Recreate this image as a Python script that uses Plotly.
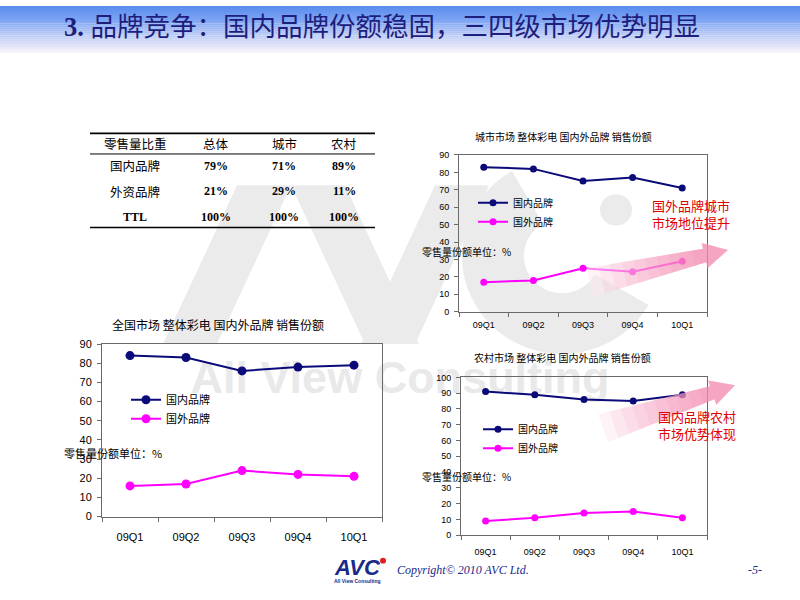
import math
import plotly.graph_objects as go

# ---------------- data ----------------
categories = ["09Q1", "09Q2", "09Q3", "09Q4", "10Q1"]
series_names = ["国内品牌", "国外品牌"]

city_domestic = [83, 82, 75, 77, 71]
city_foreign = [17, 18, 25, 23, 29]
national_domestic = [84, 83, 76, 78, 79]
national_foreign = [16, 17, 24, 22, 21]
rural_domestic = [91, 89, 86, 85, 89]
rural_foreign = [9, 11, 14, 15, 11]

table_header = ["零售量比重", "总体", "城市", "农村"]
table_rows = ["国内品牌", "外资品牌", "TTL"]
share_total = ["79%", "21%", "100%"]
share_city = ["71%", "29%", "100%"]
share_rural = ["89%", "11%", "100%"]

slide_title = "品牌竞争：国内品牌份额稳固，三四级市场优势明显"
title_city = "城市市场 整体彩电 国内外品牌 销售份额"
title_national = "全国市场 整体彩电 国内外品牌 销售份额"
title_rural = "农村市场 整体彩电 国内外品牌 销售份额"
unit_label = "零售量份额单位：%"
note_city = "国外品牌城市<br>市场地位提升"
note_rural = "国内品牌农村<br>市场优势体现"

# ---------------- style ----------------
W, H = 800, 600
CJK = "Noto Sans CJK SC"
NUMF = "Liberation Sans"
SERIF = "Liberation Serif, Noto Sans CJK SC"
NAVY = "#0a0a78"
PINK = "#ff00ff"
AXIS = "#6a6a6a"
TITLE_NAVY = "#1e1e7c"
WM = "#ebebeb"


def PX(x):
    return x / W


def PY(y):
    return 1 - y / H


fig = go.Figure()

charts = [
    dict(xa="x", ya="y", xk="xaxis", yk="yaxis", lg="legend",
         dx=(459, 707), dy=(152, 312), ymax=90,
         dom=city_domestic, fgn=city_foreign, ms=7, fs=9, so=4,
         title=title_city, tpos=(563, 133), tfs=10,
         unit=(420, 250), ufs=10, leg=(473, 186), lfs=10),
    dict(xa="x2", ya="y2", xk="xaxis2", yk="yaxis2", lg="legend2",
         dx=(102, 382), dy=(345, 521), ymax=90,
         dom=national_domestic, fgn=national_foreign, ms=9, fs=11, so=10,
         title=title_national, tpos=(218, 325), tfs=12,
         unit=(62, 456), ufs=11, leg=(126, 387), lfs=11),
    dict(xa="x3", ya="y3", xk="xaxis3", yk="yaxis3", lg="legend3",
         dx=(461, 707), dy=(379, 540), ymax=100,
         dom=rural_domestic, fgn=rural_foreign, ms=7, fs=9, so=8,
         title=title_rural, tpos=(562, 359), tfs=10,
         unit=(420, 480), ufs=10, leg=(478, 417), lfs=10),
]

annotations = []
layout_extra = {}

for c in charts:
    for name, vals, col in ((series_names[0], c["dom"], NAVY), (series_names[1], c["fgn"], PINK)):
        fig.add_trace(go.Scatter(
            x=categories, y=vals, name=name, mode="lines+markers",
            line=dict(color=col, width=2), marker=dict(color=col, size=c["ms"]),
            xaxis=c["xa"], yaxis=c["ya"], legend=c["lg"], showlegend=True,
            hoverinfo="skip"))
    layout_extra[c["xk"]] = dict(
        domain=[PX(c["dx"][0]), PX(c["dx"][1])], anchor=c["ya"],
        type="category", range=[-0.5, 4.5], showline=True, mirror=True,
        linecolor=AXIS, linewidth=1, ticks="outside", tickson="boundaries",
        ticklen=4, tickcolor=AXIS, showgrid=False, zeroline=False,
        tickfont=dict(family=NUMF, size=c["fs"], color="black"),
        ticklabelstandoff=c["so"])
    layout_extra[c["yk"]] = dict(
        domain=[PY(c["dy"][1]), PY(c["dy"][0])], anchor=c["xa"],
        range=[0, c["ymax"]], dtick=10, tick0=0, showline=True, mirror=True,
        linecolor=AXIS, linewidth=1, ticks="outside", ticklen=4,
        tickcolor=AXIS, showgrid=False, zeroline=False,
        tickfont=dict(family=NUMF, size=c["fs"], color="black"),
        ticklabelstandoff=3)
    layout_extra[c["lg"]] = dict(
        x=PX(c["leg"][0]), y=PY(c["leg"][1]), xanchor="left", yanchor="top",
        bgcolor="rgba(0,0,0,0)", borderwidth=0, itemwidth=30,
        font=dict(family=CJK, size=c["lfs"], color="black"),
        tracegroupgap=0, itemclick=False, itemdoubleclick=False)
    annotations.append(dict(
        x=PX(c["tpos"][0]), y=PY(c["tpos"][1]), xref="paper", yref="paper",
        text=c["title"], showarrow=False, xanchor="center", yanchor="middle",
        font=dict(family=CJK, size=c["tfs"], color="black")))
    annotations.append(dict(
        x=PX(c["unit"][0]), y=PY(c["unit"][1]), xref="paper", yref="paper",
        text=unit_label, showarrow=False, xanchor="left", yanchor="middle",
        font=dict(family=CJK, size=c["ufs"], color="black")))

# ---------------- table (text laid out from the arrays) ----------------
col_x = [135, 216, 284, 344]
row_y = [163, 189, 215]
for j, h in enumerate(table_header):
    annotations.append(dict(x=PX(col_x[j]), y=PY(140), xref="paper", yref="paper",
                            text=h, showarrow=False, xanchor="center", yanchor="middle",
                            font=dict(family=CJK, size=12.5, color="black")))
columns = [table_rows, share_total, share_city, share_rural]
for j, col in enumerate(columns):
    for i, v in enumerate(col):
        is_bold = j > 0 or v.isascii()
        annotations.append(dict(
            x=PX(col_x[j]), y=PY(row_y[i]), xref="paper", yref="paper",
            text=("<b>%s</b>" % v) if is_bold else v, showarrow=False,
            xanchor="center", yanchor="middle",
            font=dict(family=SERIF if is_bold else CJK,
                      size=12 if is_bold else 12.5, color="black")))

# ---------------- shapes ----------------
shapes = []

# header gradient band
stops = [(0, (88, 140, 238)), (15, (128, 166, 244)), (30, (188, 204, 246)),
         (42, (230, 229, 246)), (48, (252, 248, 252))]
for y in range(0, 48, 2):
    for i in range(len(stops) - 1):
        if stops[i][0] <= y < stops[i + 1][0]:
            y0, c0 = stops[i]
            y1, c1 = stops[i + 1]
            t = (y + 1 - y0) / (y1 - y0)
            col = tuple(int(c0[k] + (c1[k] - c0[k]) * t) for k in range(3))
            break
    shapes.append(dict(type="rect", xref="paper", yref="paper", layer="below",
                       x0=0, x1=1, y0=PY(y + 2.2), y1=PY(y), line=dict(width=0),
                       fillcolor="rgb(%d,%d,%d)" % col))


def poly(pts):
    return "M " + " L ".join("%.5f,%.5f" % (PX(x), PY(y)) for x, y in pts) + " Z"


# watermark "AVC"
for pts in ([(237, 183), (291, 183), (217, 345), (163, 345)],
            [(291, 183), (345, 183), (419, 345), (365, 345)],
            [(435, 183), (489, 183), (415, 345), (361, 345)]):
    shapes.append(dict(type="path", xref="paper", yref="paper", layer="below",
                       path=poly(pts), fillcolor=WM, line=dict(width=0)))
cx, cy, R, r = 562, 255, 100, 38
a0, a1 = 120, 330
outer = [(cx + R * math.cos(math.radians(a)), cy - R * math.sin(math.radians(a)))
         for a in range(a0, a1 + 1, 5)]
inner = [(cx + r * math.cos(math.radians(a)), cy - r * math.sin(math.radians(a)))
         for a in range(a1, a0 - 1, -5)]
shapes.append(dict(type="path", xref="paper", yref="paper", layer="below",
                   path=poly(outer + inner), fillcolor=WM, line=dict(width=0)))
shapes.append(dict(type="circle", xref="paper", yref="paper", layer="below",
                   x0=PX(600), x1=PX(632), y0=PY(224), y1=PY(192),
                   fillcolor=WM, line=dict(width=0)))
shapes.append(dict(type="rect", xref="paper", yref="paper", layer="below",
                   x0=PX(170), x1=PX(630), y0=PY(398), y1=PY(352),
                   line=dict(width=0), fillcolor="rgba(0,0,0,0)",
                   label=dict(text="<b>All View Consulting</b>",
                              textposition="middle center",
                              font=dict(family=NUMF, size=45, color="#e9e9e9"))))

# table rules
for y, w in ((130, 1.6), (151, 1), (226, 1.6)):
    shapes.append(dict(type="line", xref="paper", yref="paper",
                       x0=PX(90), x1=PX(375), y0=PY(y), y1=PY(y),
                       line=dict(color="black", width=w)))


# gradient arrows
def arrow(tail, tip, bw0, bw1, hw, hl, n):
    dx, dy = tip[0] - tail[0], tip[1] - tail[1]
    L = math.hypot(dx, dy)
    ux, uy = dx / L, dy / L
    nx, ny = -uy, ux
    bx, by = tip[0] - ux * hl, tip[1] - uy * hl
    out = []
    for k in range(n):
        f = k / n
        sx, sy = tail[0] + ux * f * (L - hl), tail[1] + uy * f * (L - hl)
        ws = bw0 + (bw1 - bw0) * f
        pts = [(sx + nx * ws, sy + ny * ws), (bx + nx * bw1, by + ny * bw1),
               (bx + nx * hw, by + ny * hw), tip,
               (bx - nx * hw, by - ny * hw), (bx - nx * bw1, by - ny * bw1),
               (sx - nx * ws, sy - ny * ws)]
        out.append(poly(pts))
    return out


for tail, tip in (((590, 282), (728, 249)), ((603, 431), (735, 387))):
    paths = arrow(tail, tip, 15, 7, 13, 24, 10)
    shapes.append(dict(type="path", xref="paper", yref="paper", layer="above",
                       path=paths[0], fillcolor="rgba(255,255,255,0.5)",
                       line=dict(width=0)))
    for p in paths:
        shapes.append(dict(type="path", xref="paper", yref="paper", layer="above",
                           path=p, fillcolor="rgba(240,90,145,0.075)",
                           line=dict(width=0)))

# footer logo dot
shapes.append(dict(type="circle", xref="paper", yref="paper",
                   x0=PX(380), x1=PX(386), y0=PY(569), y1=PY(563),
                   fillcolor="#e02020", line=dict(width=0)))

# ---------------- annotations ----------------
annotations += [
    dict(x=PX(62), y=PY(21), xref="paper", yref="paper", showarrow=False,
         xanchor="left", yanchor="middle",
         text="<b>3.</b> " + slide_title,
         font=dict(family=SERIF, size=26.5, color=TITLE_NAVY)),
    dict(x=PX(691), y=PY(212), xref="paper", yref="paper", showarrow=False,
         xanchor="center", yanchor="middle", align="center", text=note_city,
         font=dict(family=CJK, size=13, color="#e00000")),
    dict(x=PX(697), y=PY(428), xref="paper", yref="paper", showarrow=False,
         xanchor="center", yanchor="middle", align="center", text=note_rural,
         font=dict(family=CJK, size=13, color="#e00000")),
    dict(x=PX(357), y=PY(573), xref="paper", yref="paper", showarrow=False,
         xanchor="center", yanchor="middle", text="<b><i>AVC</i></b>",
         font=dict(family=NUMF, size=22, color="#1a2a8a")),
    dict(x=PX(357), y=PY(587), xref="paper", yref="paper", showarrow=False,
         xanchor="center", yanchor="middle", text="<b>All View Consulting</b>",
         font=dict(family=NUMF, size=5, color="#1a2a8a")),
    dict(x=PX(395), y=PY(576), xref="paper", yref="paper", showarrow=False,
         xanchor="left", yanchor="middle", text="<i>Copyright© 2010 AVC Ltd.</i>",
         font=dict(family="Liberation Serif", size=12, color="#1a2a8a")),
    dict(x=PX(755), y=PY(576), xref="paper", yref="paper", showarrow=False,
         xanchor="center", yanchor="middle", text="<i>-5-</i>",
         font=dict(family="Liberation Serif", size=12, color="#1a2a8a")),
]

fig.update_layout(
    width=W, height=H, autosize=False,
    margin=dict(l=0, r=0, t=0, b=0),
    paper_bgcolor="white", plot_bgcolor="rgba(0,0,0,0)",
    showlegend=True, hovermode=False,
    shapes=shapes, annotations=annotations,
    **layout_extra)

fig.write_html("out.html", config=dict(displayModeBar=False),
               post_script="document.body.style.margin='0';document.body.style.overflow='hidden';")
